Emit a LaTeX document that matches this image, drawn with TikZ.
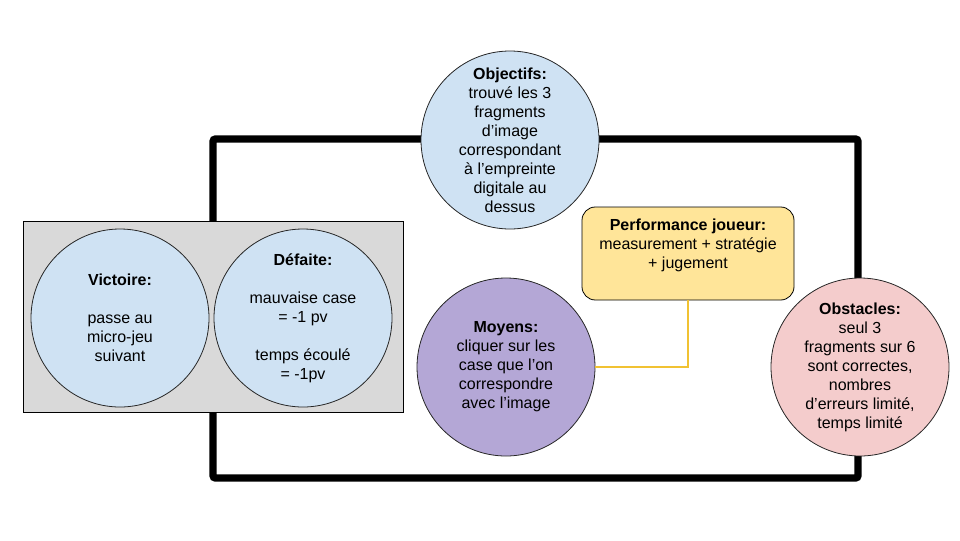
\documentclass[tikz,border=0pt]{standalone}
\usepackage{fontspec}
\setmainfont{Liberation Sans}
\definecolor{bleu}{HTML}{CFE2F3}
\definecolor{violet}{HTML}{B4A7D6}
\definecolor{rose}{HTML}{F4CCCC}
\definecolor{jaune}{HTML}{FFE599}
\definecolor{jaunefil}{HTML}{F1C232}
\definecolor{gris}{HTML}{D9D9D9}
\begin{document}
\begin{tikzpicture}[x=0.75pt,y=-0.75pt,
    bulle/.style={circle,draw=black!85,line width=0.6pt,minimum size=133.5pt,inner sep=0pt},
    texte/.style={align=center,inner sep=0pt,font=\fontsize{12}{14.25}\selectfont}]
      \useasboundingbox (0,0) rectangle (960,540);
      \draw[line width=5.6pt,rounded corners=2pt] (213,139) rectangle (858,478);
      \node[draw=black,line width=0.6pt,fill=gris,minimum width=285pt,minimum height=143.25pt] (fin) at (213,316.5) {};
      \node[bulle,fill=bleu] (vic) at (120,318) {};
      \node[texte] at (vic) {\textbf{Victoire:}\\[14.25pt] passe au\\ micro-jeu\\ suivant};
      \node[bulle,fill=bleu] (def) at (303,318) {};
      \node[texte] at (def) {\textbf{Défaite:}\\[14.25pt] mauvaise case\\ = -1 pv\\[14.25pt] temps écoulé\\ = -1pv};
      \node[bulle,fill=bleu] (obj) at (510,140) {};
      \node[texte] at (obj) {\textbf{Objectifs:}\\ trouvé les 3\\ fragments\\ d’image\\ correspondant\\ à l’empreinte\\ digitale au\\ dessus};
      \node[draw=black,line width=0.6pt,fill=jaune,rounded corners=10pt,minimum width=159pt,minimum height=69.75pt] (perf) at (688,253.5) {};
      \node[texte] at (688,245) {\textbf{Performance joueur:}\\ measurement + stratégie\\ + jugement};
      \node[bulle,fill=violet] (moy) at (506,367) {};
      \node[texte] at (moy) {\textbf{Moyens:}\\ cliquer sur les\\ case que l’on\\ correspondre\\ avec l’image};
      \node[bulle,fill=rose] (obs) at (860,367) {};
      \node[texte] at (obs) {\textbf{Obstacles:}\\ seul 3\\ fragments sur 6\\ sont correctes,\\ nombres\\ d’erreurs limité,\\ temps limité};
      \draw[jaunefil,line width=1.9pt] (moy.east) -| (perf.south);
    \end{tikzpicture}
\end{document}
